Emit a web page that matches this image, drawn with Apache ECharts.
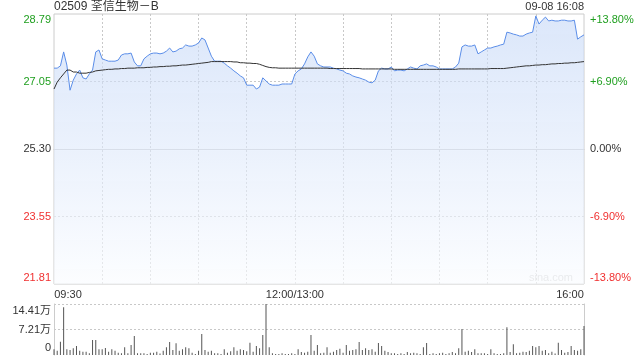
<!DOCTYPE html>
<html><head><meta charset="utf-8">
<script src="https://cdn.jsdelivr.net/npm/echarts@6/dist/echarts.min.js"></script>
<style>html,body{margin:0;padding:0;background:#fff}#c{width:640px;height:360px}</style>
</head><body><div id="c"></div>
<script>
const titleText = '02509 荃信生物－B';
const stampText = '09-08 16:08';
const priceMin = 21.81, priceMax = 28.79;
const priceTicks = ['21.81','23.55','25.30','27.05','28.79'];
const pctTicks = ['-13.80%','-6.90%','0.00%','+6.90%','+13.80%'];
const volTicks = ['0','7.21万','14.41万'];
const timeTicks = ['09:30','12:00/13:00','16:00'];
const volMax = 144100;

// price every 2 minutes (09:30 .. 11:58, 12:00/13:00, 13:02 .. 16:00)
const price = [
27.39,27.39,27.45,27.81,27.47,26.82,27.08,27.24,27.34,27.14,
27.11,27.24,27.34,27.81,27.86,27.63,27.60,27.57,27.57,27.57,
27.60,27.73,27.76,27.76,27.78,27.55,27.45,27.45,27.63,27.70,
27.76,27.78,27.78,27.76,27.78,27.83,27.91,27.81,27.83,27.89,
27.91,27.99,27.96,27.96,27.99,28.04,28.17,28.12,27.91,27.70,
27.57,27.57,27.57,27.52,27.45,27.39,27.32,27.26,27.19,27.14,
26.95,26.95,26.95,26.85,26.90,27.14,27.06,26.98,26.95,26.95,
26.95,26.98,26.98,26.98,26.98,27.24,27.32,27.37,27.50,27.68,
27.81,27.70,27.50,27.45,27.42,27.42,27.42,27.39,27.37,27.34,
27.32,27.26,27.24,27.19,27.16,27.14,27.11,27.08,27.03,27.01,
27.08,27.32,27.39,27.37,27.37,27.42,27.32,27.34,27.34,27.32,
27.37,27.42,27.39,27.37,27.45,27.47,27.50,27.45,27.45,27.42,
27.37,27.37,27.37,27.37,27.37,27.42,27.52,27.94,27.99,27.96,
27.96,27.99,27.76,27.81,27.86,27.91,27.91,27.94,27.96,27.99,
28.01,28.32,28.30,28.27,28.25,28.22,28.22,28.27,28.30,28.32,
28.74,28.53,28.63,28.71,28.61,28.63,28.61,28.61,28.63,28.63,
28.61,28.61,28.63,28.14,28.20,28.25
];
const avgPrice = [
26.85,27.03,27.14,27.24,27.34,27.34,27.29,27.29,27.26,27.26,
27.26,27.28,27.29,27.32,27.33,27.34,27.35,27.36,27.36,27.37,
27.37,27.38,27.38,27.39,27.39,27.39,27.40,27.40,27.40,27.41,
27.41,27.42,27.42,27.43,27.43,27.44,27.44,27.45,27.45,27.46,
27.47,27.47,27.48,27.49,27.50,27.51,27.52,27.53,27.54,27.56,
27.56,27.56,27.56,27.56,27.56,27.56,27.55,27.55,27.53,27.53,
27.52,27.52,27.51,27.51,27.49,27.46,27.43,27.41,27.40,27.40,
27.39,27.39,27.39,27.39,27.39,27.39,27.39,27.39,27.39,27.39,
27.39,27.39,27.39,27.39,27.39,27.39,27.38,27.38,27.38,27.38,
27.38,27.38,27.38,27.38,27.38,27.38,27.37,27.37,27.37,27.37,
27.37,27.37,27.37,27.37,27.37,27.37,27.36,27.36,27.36,27.36,
27.36,27.36,27.36,27.36,27.36,27.36,27.36,27.36,27.36,27.36,
27.36,27.36,27.36,27.36,27.36,27.36,27.37,27.37,27.37,27.37,
27.37,27.37,27.37,27.37,27.37,27.37,27.38,27.38,27.38,27.38,
27.38,27.39,27.40,27.41,27.42,27.43,27.44,27.45,27.45,27.46,
27.47,27.47,27.48,27.48,27.49,27.50,27.50,27.51,27.51,27.52,
27.52,27.53,27.53,27.54,27.55,27.56
];
const volume = [
16100,12100,37600,134800,16100,14100,18900,25400,12100,9300,
9300,4800,42400,42400,16100,16100,19800,9300,16100,12100,
6500,4800,21800,4800,28300,53700,4800,4800,4800,2800,
6500,6500,9300,4200,12100,21800,36700,14100,33100,12100,
16100,21800,18900,6500,2800,12100,59300,14100,9300,12100,
4800,4800,2800,16100,6500,10500,21800,12100,16100,14100,
10500,34700,9300,25400,18900,56500,144100,21800,4800,2800,
2800,4800,2800,2800,4800,2800,16100,8500,6500,9300,
56500,12100,28300,4800,6500,21800,6500,9300,14100,17800,
6500,28300,12100,14100,16100,36700,14100,18900,14100,16100,
9300,33900,25400,12100,8500,4800,4800,2800,4800,2800,
8500,4800,6500,4800,2800,21800,33900,2800,4800,2800,
4800,6500,2800,4800,8500,4800,18900,73500,9300,12100,
8500,16100,4800,4800,4800,2800,16100,4800,2800,2800,
4800,78300,8500,30200,4800,6500,9300,8500,12100,25400,
21800,25400,12100,14100,4800,9300,4200,34700,14100,6500,
8500,25400,14100,12100,16100,81900
];

// time categories: 2-minute slots
const times = [];
function fmt(m){const h=Math.floor(m/60),mm=m%60;return (h<10?'0':'')+h+':'+(mm<10?'0':'')+mm;}
for (let m = 570; m < 720; m += 2) times.push(fmt(m));
times.push('12:00/13:00');
for (let m = 782; m <= 960; m += 2) times.push(fmt(m));

const GREEN = '#1f9f1f', RED = '#f03030', DARK = '#333';
const FONT = '"Liberation Sans", Arial, "Noto Sans CJK SC", sans-serif';
const pctStep = 6.9;
const names = ['bot','down','flat','up','top'];
function pIdx(v){ return Math.round(v / pctStep) + 2; }
const richPrice = {
  bot: {color: RED, fontSize: 11, fontFamily: FONT, padding: [0,0,12,0]},
  down: {color: RED, fontSize: 11, fontFamily: FONT},
  flat: {color: DARK, fontSize: 11, fontFamily: FONT},
  up: {color: GREEN, fontSize: 11, fontFamily: FONT},
  top: {color: GREEN, fontSize: 11, fontFamily: FONT, padding: [12,0,0,0]}
};
const dotted = {color: '#c8c8c8', type: [2, 2], width: 1};
const catStep = 15; // 30 minutes
const labelIdx = [0, 75, times.length - 1];

const chart = echarts.init(document.getElementById('c'), null, {renderer: 'canvas'});
chart.setOption({
  animation: false,
  textStyle: {fontFamily: FONT},
  title: [
    {text: titleText, left: 54, top: 1, padding: 0, textStyle: {fontSize: 12, fontWeight: 'normal', color: DARK, fontFamily: FONT}},
    {text: stampText, right: 56, top: 1, padding: 0, textStyle: {fontSize: 11, fontWeight: 'normal', color: DARK, fontFamily: FONT}}
  ],
  graphic: [{type: 'text', right: 67, top: 272, silent: true,
    style: {text: 'sina.com', fill: '#cfcfcf', font: '11px ' + FONT}}],
  grid: [
    {left: 54, right: 56, top: 14, height: 270, show: true, borderColor: '#cccccc', borderWidth: 1},
    {left: 54, right: 56, top: 304, height: 51}
  ],
  xAxis: [
    {type: 'category', gridIndex: 0, data: times, boundaryGap: false,
     axisLine: {show: true, lineStyle: {color: '#cccccc'}}, axisTick: {show: false},
     axisLabel: {interval: (i) => labelIdx.indexOf(i) >= 0, margin: 5, fontSize: 11, color: DARK,
       formatter: (v, i) => i === 0 ? '{l|' + timeTicks[0] + '}' : (i === 75 ? '{c|' + timeTicks[1] + '}' : '{r|' + timeTicks[2] + '}'),
       rich: {l: {padding: [0,0,0,28], fontSize: 11, color: DARK}, c: {fontSize: 11, color: DARK}, r: {padding: [0,28,0,0], fontSize: 11, color: DARK}}},
     splitLine: {show: true, interval: (i) => i % catStep === 0 && i > 0 && i < times.length - 1, lineStyle: dotted}},
    {type: 'category', gridIndex: 1, data: times, boundaryGap: false,
     axisLine: {show: false}, axisTick: {show: false}, axisLabel: {show: false}, splitLine: {show: false}}
  ],
  yAxis: [
    {type: 'value', gridIndex: 0, position: 'left', min: -13.8, max: 13.8, interval: pctStep,
     axisLine: {show: false}, axisTick: {show: false},
     axisLabel: {margin: 3, formatter: (v) => '{' + names[pIdx(v)] + '|' + priceTicks[pIdx(v)] + '}', rich: richPrice},
     splitLine: {show: true, showMinLine: false, showMaxLine: false, lineStyle: dotted}},
    {type: 'value', gridIndex: 0, position: 'right', min: -13.8, max: 13.8, interval: pctStep,
     axisLine: {show: false}, axisTick: {show: false},
     axisLabel: {margin: 6, formatter: (v) => '{' + names[pIdx(v)] + '|' + pctTicks[pIdx(v)] + '}', rich: richPrice},
     splitLine: {show: false}},
    {type: 'value', gridIndex: 0, min: priceMin, max: priceMax, show: false},
    {type: 'value', gridIndex: 1, position: 'left', min: 0, max: volMax, interval: volMax / 2,
     axisLine: {show: true, lineStyle: {color: '#cccccc'}}, axisTick: {show: false},
     axisLabel: {margin: 3, fontSize: 11, color: DARK,
       formatter: (v) => { const k = Math.round(v / (volMax / 2)); return (k === 0 ? '{b|' : k === 1 ? '{m|' : '{t|') + volTicks[k] + '}'; },
       rich: {b: {padding: [0,0,14,0], fontSize: 11, color: DARK}, m: {fontSize: 11, color: DARK}, t: {padding: [14,0,0,0], fontSize: 11, color: DARK}}},
     splitLine: {show: true, showMinLine: false, lineStyle: dotted}},
    {type: 'value', gridIndex: 1, position: 'right', min: 0, max: volMax,
     axisLine: {show: true, lineStyle: {color: '#cccccc'}}, axisTick: {show: false}, axisLabel: {show: false}, splitLine: {show: false}}
  ],
  series: [
    {type: 'line', name: 'price', xAxisIndex: 0, yAxisIndex: 2, data: price, symbol: 'none',
     lineStyle: {color: '#5a8de8', width: 1},
     areaStyle: {origin: 'start', color: new echarts.graphic.LinearGradient(0, 0, 0, 1, [
       {offset: 0, color: 'rgba(196,215,247,0.85)'}, {offset: 1, color: 'rgba(250,252,255,0.9)'}])}},
    {type: 'line', name: 'avg', xAxisIndex: 0, yAxisIndex: 2, data: avgPrice, symbol: 'none',
     lineStyle: {color: '#333', width: 1}},
    {type: 'bar', name: 'volume', xAxisIndex: 1, yAxisIndex: 3, data: volume, barWidth: 1,
     itemStyle: {color: '#555'}}
  ]
});
</script></body></html>
